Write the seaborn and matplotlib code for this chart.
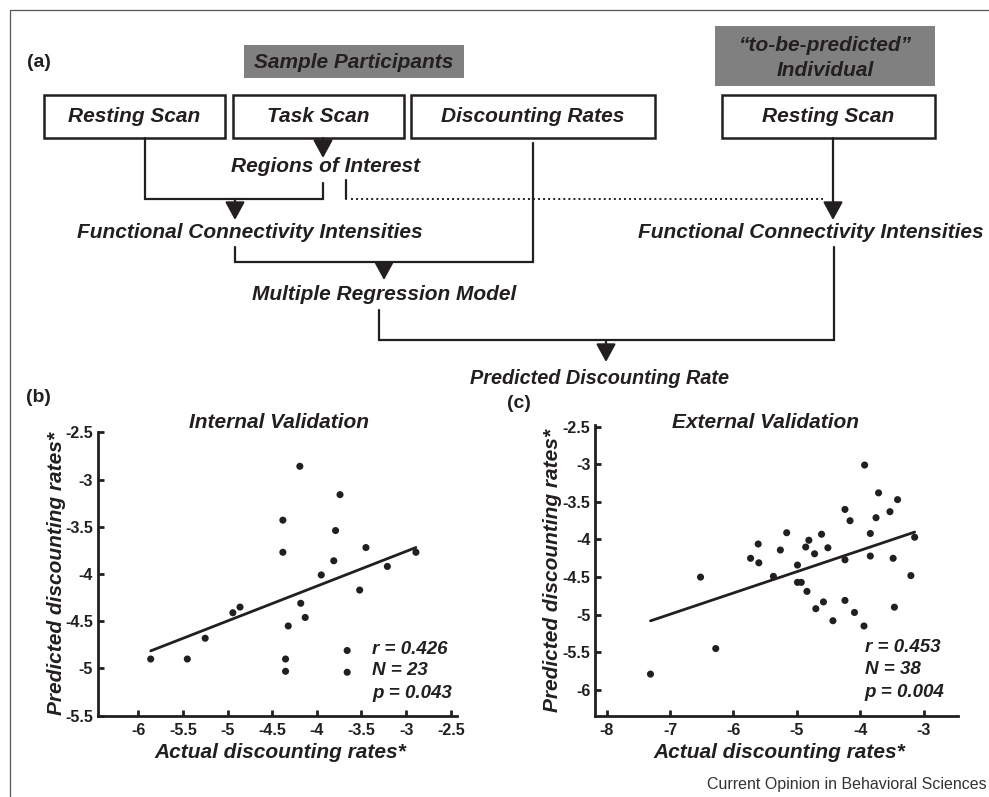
import matplotlib
matplotlib.use("Agg")
import matplotlib.pyplot as plt
from matplotlib.patches import Rectangle
from matplotlib.ticker import FuncFormatter
import seaborn as sns
import pandas as pd

# (b) internal validation, N = 23
internal_actual = [-5.86, -5.45, -5.25, -4.94, -4.86, -4.38, -4.38, -4.32, -4.35, -4.35,
                   -4.19, -4.18, -4.13, -3.95, -3.81, -3.79, -3.74, -3.66, -3.66, -3.52,
                   -3.45, -3.21, -2.89]
internal_pred = [-4.90, -4.90, -4.68, -4.41, -4.35, -3.43, -3.77, -4.55, -4.90, -5.03,
                 -2.86, -4.31, -4.46, -4.01, -3.86, -3.54, -3.16, -4.81, -5.04, -4.17,
                 -3.72, -3.92, -3.77]

# (c) external validation, N = 38
external_actual = [-7.31, -6.52, -6.28, -5.73, -5.61, -5.60, -5.37, -5.26, -5.16, -4.99,
                   -4.99, -4.93, -4.86, -4.84, -4.81, -4.72, -4.70, -4.61, -4.58, -4.51,
                   -4.43, -4.24, -4.24, -4.24, -4.16, -4.09, -3.94, -3.93, -3.84, -3.84,
                   -3.75, -3.71, -3.53, -3.48, -3.46, -3.41, -3.20, -3.14]
external_pred = [-5.79, -4.50, -5.45, -4.25, -4.06, -4.31, -4.49, -4.14, -3.91, -4.34,
                 -4.57, -4.57, -4.10, -4.69, -4.01, -4.19, -4.92, -3.93, -4.83, -4.11,
                 -5.08, -3.60, -4.27, -4.81, -3.75, -4.97, -5.15, -3.01, -3.92, -4.22,
                 -3.71, -3.38, -3.63, -4.25, -4.90, -3.47, -4.48, -3.97]

internal_stats = ["r = 0.426", "N = 23", "p = 0.043"]
external_stats = ["r = 0.453", "N = 38", "p = 0.004"]

internal_xticks = [-6, -5.5, -5, -4.5, -4, -3.5, -3, -2.5]
internal_yticks = [-5.5, -5, -4.5, -4, -3.5, -3, -2.5]
external_xticks = [-8, -7, -6, -5, -4, -3]
external_yticks = [-6, -5.5, -5, -4.5, -4, -3.5, -3, -2.5]

INK = "#231f20"
GREY = "#808080"

sns.set_theme(style="ticks")
plt.rcParams["font.family"] = ["Liberation Sans", "DejaVu Sans"]

fig = plt.figure(figsize=(9.89, 7.97), dpi=100)

# ---- flow chart, drawn in pixel coordinates on an overlay axes
fa = fig.add_axes([0, 0, 1, 1])
fa.set_xlim(0, 989)
fa.set_ylim(797, 0)
fa.axis("off")

# page frame
fa.plot([10, 989], [10, 10], color="#555555", lw=0.9)
fa.plot([10, 10], [10, 797], color="#555555", lw=0.9)

bi = dict(fontsize=15, fontweight="bold", fontstyle="italic", color=INK,
          ha="center", va="center")


def box(x0, y0, x1, y1, grey=False):
    if grey:
        fa.add_patch(Rectangle((x0, y0), x1 - x0, y1 - y0, fc=GREY, ec="none"))
    else:
        fa.add_patch(Rectangle((x0, y0), x1 - x0, y1 - y0, fc="white", ec=INK, lw=1.8))


def path(pts, **kw):
    xs, ys = zip(*pts)
    fa.plot(xs, ys, color=INK, lw=kw.pop("lw", 1.6), solid_joinstyle="miter", **kw)


def arrow(x, y0, y1):
    fa.annotate("", xy=(x, y1), xytext=(x, y0),
                arrowprops=dict(arrowstyle="-|>,head_length=0.55,head_width=0.3",
                                color=INK, lw=1.6, mutation_scale=20,
                                shrinkA=0, shrinkB=0))


fa.text(27, 62, "(a)", fontsize=14, fontweight="bold", color=INK, ha="left", va="center")

box(244, 45, 464, 78, grey=True)
fa.text(354, 62, "Sample Participants", **bi)
box(715, 26, 935, 86, grey=True)
fa.text(825, 45, "\u201cto-be-predicted\u201d", **bi)
fa.text(825, 70, "Individual", **bi)

box(44, 95, 225, 138)
fa.text(134.5, 116, "Resting Scan", **bi)
box(233, 95, 404, 138)
fa.text(318.5, 116, "Task Scan", **bi)
box(411, 95, 655, 138)
fa.text(533, 116, "Discounting Rates", **bi)
box(722, 95, 935, 138)
fa.text(828.5, 116, "Resting Scan", **bi)

arrow(323, 138, 158)
fa.text(326, 166, "Regions of Interest", **bi)

path([(145, 138), (145, 199), (323, 199), (323, 183)])
arrow(235, 199, 220)
path([(346, 180), (346, 199)])
path([(351, 199), (823, 199)], lw=1.4, ls=(0, (1, 1.6)))
arrow(833, 138, 220)

fa.text(249.5, 232, "Functional Connectivity Intensities", **bi)
fa.text(811, 232, "Functional Connectivity Intensities", **bi)

path([(235, 247), (235, 262), (533, 262), (533, 143)])
arrow(384, 262, 280)
fa.text(384, 294, "Multiple Regression Model", **bi)

path([(379, 310), (379, 340), (834, 340), (834, 247)])
arrow(606, 340, 362)
fa.text(600, 378, "Predicted Discounting Rate", fontsize=14.3, fontweight="bold",
        fontstyle="italic", color=INK, ha="center", va="center")

fa.text(26, 397, "(b)", fontsize=14, fontweight="bold", color=INK, ha="left", va="center")
fa.text(507, 403, "(c)", fontsize=14, fontweight="bold", color=INK, ha="left", va="center")
fa.text(279, 422, "Internal Validation", **bi)
fa.text(766, 422, "External Validation", **bi)
fa.text(987, 784, "Current Opinion in Behavioral Sciences", fontsize=11.5,
        color="#333333", ha="right", va="center")

# ---- scatter panels
fmt = FuncFormatter(lambda v, _: f"{v:g}")


def panel(rect, x, y, xticks, yticks, xlim, ylim, stats, stats_x, ylab_x, xlab_y):
    ax = fig.add_axes(rect, facecolor="none")
    df = pd.DataFrame({"actual": x, "predicted": y})
    sns.scatterplot(data=df, x="actual", y="predicted", ax=ax, color=INK,
                    s=26, edgecolor="none", zorder=3)
    sns.regplot(data=df, x="actual", y="predicted", ax=ax, scatter=False, ci=None,
                color=INK, line_kws=dict(lw=2))
    ax.set_xlim(*xlim)
    ax.set_ylim(*ylim)
    ax.set_xticks(xticks)
    ax.set_yticks(yticks)
    ax.xaxis.set_major_formatter(fmt)
    ax.yaxis.set_major_formatter(fmt)
    sns.despine(ax=ax)
    for s in ("left", "bottom"):
        ax.spines[s].set_linewidth(2)
        ax.spines[s].set_color(INK)
    ax.tick_params(direction="in", length=4, width=2, color=INK, labelcolor=INK,
                   labelsize=11.5)
    ax.tick_params(axis="x", pad=5.5)
    for lab in ax.get_xticklabels() + ax.get_yticklabels():
        lab.set_fontweight("bold")
    ax.set_xlabel("Actual discounting rates*", fontsize=15, fontweight="bold",
                  fontstyle="italic", color=INK, va="top")
    ax.set_ylabel("Predicted discounting rates*", fontsize=15, fontweight="bold",
                  fontstyle="italic", color=INK)
    ax.xaxis.set_label_coords(0.507, xlab_y)
    ax.yaxis.set_label_coords(ylab_x, 0.5)
    ty = [0.235, 0.16, 0.08]
    for t, yy in zip(stats, ty):
        ax.text(stats_x, yy, t, transform=ax.transAxes, fontsize=13.5,
                fontweight="bold", fontstyle="italic", color=INK, ha="left", va="center")
    return ax


panel([0.0991, 0.102, 0.363, 0.3556], internal_actual, internal_pred,
      internal_xticks, internal_yticks, (-6.45, -2.43), (-5.5, -2.5),
      internal_stats, (372 - 98) / 359, -0.09, -0.095)
panel([0.602, 0.102, 0.3664, 0.3648], external_actual, external_pred,
      external_xticks, external_yticks, (-8.18, -2.46), (-6.343, -2.477),
      external_stats, (864 - 595) / 362, -0.093, -0.093)

fig.savefig("out.png", dpi=100)
